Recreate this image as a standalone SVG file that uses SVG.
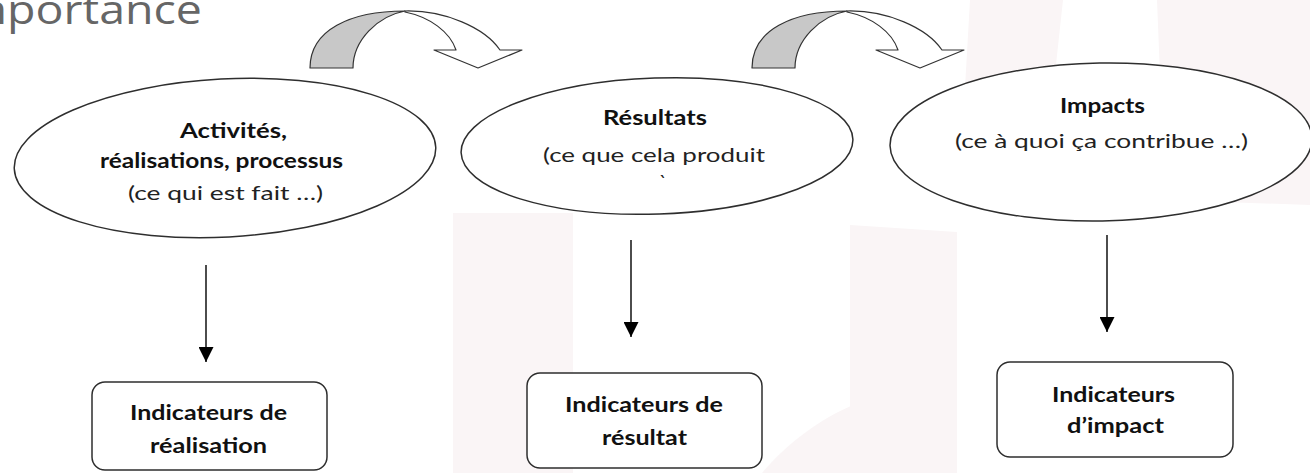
<svg xmlns="http://www.w3.org/2000/svg" width="1310" height="473" viewBox="0 0 1310 473">
  <style>
    .bg{fill:#faf5f6;stroke:none}
    .ell{fill:#ffffff;stroke:#2e2e2e;stroke-width:1.5}
    .box{fill:#ffffff;stroke:#2e2e2e;stroke-width:1.5}
    .b{font-family:Lato,"Liberation Sans",sans-serif;font-weight:700;font-size:20px;fill:#111;text-anchor:middle}
    .n{font-family:Lato,"Liberation Sans",sans-serif;font-weight:400;font-size:19px;fill:#222;text-anchor:middle}
    .title{font-family:"Open Sans","Liberation Sans",sans-serif;font-size:40px;fill:#666666}
    .conn{stroke:#000;stroke-width:1.4;fill:none}
    .cgray{fill:#c8c8c8;stroke:#333;stroke-width:1.2;stroke-linejoin:round}
    .cwhite{fill:#ffffff;stroke:#333;stroke-width:1.2;stroke-linejoin:round}
  </style>
  <defs>
    <marker id="ah" markerUnits="userSpaceOnUse" markerWidth="15" markerHeight="15" viewBox="0 0 10 10" refX="10" refY="5" orient="auto">
      <path d="M0,0 L10,5 L0,10 z" fill="#000"/>
    </marker>
    <g id="curved">
      <path class="cgray" d="M310,68 C310,30 350,11 405,11 C378,16 353,40 353,68 Z"/>
      <path class="cwhite" d="M405,11 C445,10 485,28 500,50 L522,50 L478,68 L434,50 L456,50 C450,32 430,17 405,12 Z"/>
    </g>
  </defs>

  <rect width="1310" height="473" fill="#ffffff"/>
  <g id="watermark">
    <rect class="bg" x="453" y="213" width="120" height="260"/>
    <path class="bg" d="M850,225 L957,232 L957,473 L850,473 Z"/>
    <path class="bg" d="M970,0 L1063,0 L1050,120 L962,140 Z"/>
    <path class="bg" d="M1157,0 L1310,0 L1310,205 L1165,200 Z"/>
    <path class="bg" d="M762,473 C790,440 830,410 880,395 L880,473 Z"/>
  </g>

  <text class="title" x="-49" y="24" textLength="251" lengthAdjust="spacingAndGlyphs">Importance</text>

  <g id="arrows-top">
    <use href="#curved"/>
    <use href="#curved" transform="translate(442,0)"/>
  </g>

  <g id="node-activites">
    <ellipse class="ell" cx="225" cy="158" rx="211" ry="79" transform="rotate(-3 225 158)"/>
    <text class="b" x="233.5" y="138" textLength="107" lengthAdjust="spacingAndGlyphs">Activités,</text>
    <text class="b" x="221.5" y="168" textLength="243" lengthAdjust="spacingAndGlyphs">réalisations, processus</text>
    <text class="n" x="225.5" y="200" textLength="195" lengthAdjust="spacingAndGlyphs">(ce qui est fait …)</text>
  </g>

  <g id="node-resultats">
    <ellipse class="ell" cx="657" cy="146" rx="196" ry="68" transform="rotate(-2 657 146)"/>
    <text class="b" x="655" y="125" textLength="104" lengthAdjust="spacingAndGlyphs">Résultats</text>
    <text class="n" x="654" y="162" textLength="222" lengthAdjust="spacingAndGlyphs">(ce que cela produit</text>
    <text class="n" x="663" y="189" font-size="16">`</text>
  </g>

  <g id="node-impacts">
    <ellipse class="ell" cx="1101" cy="142" rx="211" ry="79" transform="rotate(-1 1101 142)"/>
    <text class="b" x="1102.5" y="113" textLength="85" lengthAdjust="spacingAndGlyphs">Impacts</text>
    <text class="n" x="1101.5" y="148" textLength="293" lengthAdjust="spacingAndGlyphs">(ce à quoi ça contribue  …)</text>
  </g>

  <g id="connectors">
    <line class="conn" x1="206" y1="265" x2="206" y2="362" marker-end="url(#ah)"/>
    <line class="conn" x1="631" y1="240" x2="631" y2="337" marker-end="url(#ah)"/>
    <line class="conn" x1="1107" y1="235" x2="1107" y2="332" marker-end="url(#ah)"/>
  </g>

  <g id="box-realisation">
    <rect class="box" x="92" y="382" width="235" height="88" rx="13" ry="13"/>
    <text class="b" x="208.5" y="420" textLength="157" lengthAdjust="spacingAndGlyphs">Indicateurs de</text>
    <text class="b" x="208.5" y="453" textLength="117" lengthAdjust="spacingAndGlyphs">réalisation</text>
  </g>

  <g id="box-resultat">
    <rect class="box" x="527" y="373" width="235" height="95" rx="13" ry="13"/>
    <text class="b" x="644" y="412" textLength="158" lengthAdjust="spacingAndGlyphs">Indicateurs de</text>
    <text class="b" x="644.5" y="445" textLength="85" lengthAdjust="spacingAndGlyphs">résultat</text>
  </g>

  <g id="box-impact">
    <rect class="box" x="997" y="362" width="236" height="95" rx="13" ry="13"/>
    <text class="b" x="1113.5" y="402" textLength="123" lengthAdjust="spacingAndGlyphs">Indicateurs</text>
    <text class="b" x="1115.5" y="433" textLength="97" lengthAdjust="spacingAndGlyphs">d’impact</text>
  </g>
</svg>
